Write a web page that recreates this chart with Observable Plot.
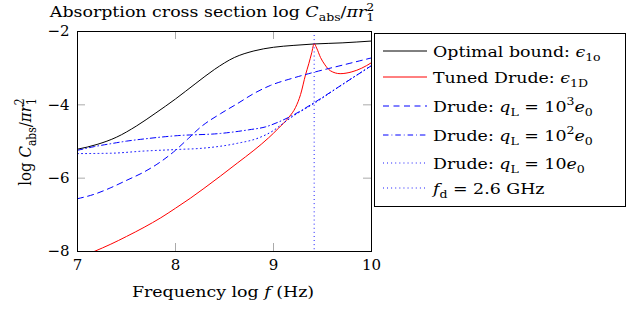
<!DOCTYPE html>
<html><head><meta charset="utf-8">
<script src="https://cdn.jsdelivr.net/npm/d3@7"></script>
<script src="https://cdn.jsdelivr.net/npm/@observablehq/plot@0.6"></script>
<style>body{margin:0;background:#fff;} svg{display:block} text{white-space:pre}</style>
</head><body><div id="chart"></div>
<script>
// Optimal bound eps_1o
const optX = [7.0, 7.2, 7.4, 7.6, 7.8, 8.0, 8.2, 8.4, 8.6, 8.8, 9.0, 9.2, 9.415, 9.7, 10.0];
const optY = [-5.21, -5.08, -4.88, -4.58, -4.22, -3.84, -3.43, -3.03, -2.71, -2.53, -2.43, -2.38, -2.34, -2.31, -2.26];
// Tuned Drude eps_1D
const tunX = [7.17, 7.34, 7.5, 7.68, 7.85, 8.0, 8.15, 8.29, 8.46, 8.63, 8.8, 8.95, 9.05, 9.16, 9.225, 9.276, 9.327, 9.36, 9.39, 9.415, 9.44, 9.48, 9.52, 9.58, 9.68, 9.80, 9.90, 10.0];
const tunY = [-8.0, -7.80, -7.59, -7.34, -7.08, -6.82, -6.55, -6.28, -5.94, -5.59, -5.24, -4.90, -4.64, -4.33, -4.07, -3.72, -3.18, -2.88, -2.58, -2.33, -2.45, -2.71, -2.89, -3.07, -3.15, -3.10, -3.00, -2.85];
// Drude qL = 1e3 e0
const d3X = [7.0, 7.17, 7.34, 7.5, 7.68, 7.85, 8.0, 8.13, 8.26, 8.46, 8.63, 8.80, 8.97, 9.2, 9.415, 9.7, 10.0];
const d3Y = [-6.56, -6.44, -6.26, -6.06, -5.83, -5.55, -5.24, -4.92, -4.60, -4.24, -3.97, -3.69, -3.47, -3.27, -3.11, -2.92, -2.72];
// Drude qL = 1e2 e0
const d2X = [7.0, 7.17, 7.34, 7.5, 7.68, 8.02, 8.46, 8.75, 8.92, 9.05, 9.2, 9.415, 9.7, 10.0];
const d2Y = [-5.24, -5.14, -5.06, -4.99, -4.93, -4.84, -4.78, -4.68, -4.60, -4.47, -4.28, -3.94, -3.45, -2.93];
// Drude qL = 10 e0
const d1X = [7.0, 7.34, 7.68, 8.0, 8.29, 8.63, 8.85, 9.0, 9.1, 9.2, 9.415, 9.7, 10.0];
const d1Y = [-5.33, -5.32, -5.26, -5.22, -5.18, -5.05, -4.90, -4.70, -4.50, -4.31, -3.96, -3.45, -2.93];
// f_d = 2.6 GHz
const fdLog = [Math.log10(2.6e9)];

const xTicks = [7, 8, 9, 10];
const yTicks = [-8, -6, -4, -2];

const series = [
  {name: "opt", xs: optX, ys: optY, stroke: "black", dash: null},
  {name: "tuned", xs: tunX, ys: tunY, stroke: "#ff0000", dash: null},
  {name: "d3", xs: d3X, ys: d3Y, stroke: "#0000ff", dash: "6,4.5"},
  {name: "d2", xs: d2X, ys: d2Y, stroke: "#0000ff", dash: "5.5,3,0.8,3"},
  {name: "d1", xs: d1X, ys: d1Y, stroke: "#0000ff", dash: "0.9,3.2"}
];
const rowsOf = s => s.xs.map((x, i) => ({x, y: s.ys[i]}));

const FONT = "'DejaVu Serif', serif";
const FS = 15;
const SX = 1.16; // horizontal stretch of the reference lettering
const fmt = d => (d < 0 ? "\u2212" + (-d) : String(d));

const plot = Plot.plot({
  width: 636, height: 311,
  marginLeft: 77, marginRight: 265, marginTop: 31, marginBottom: 60,
  x: {domain: [7, 10]},
  y: {domain: [-8, -2]},
  style: {fontFamily: FONT, fontSize: FS + "px", background: "white", color: "black"},
  marks: [
    Plot.axisX({ticks: xTicks, tickSize: 0, tickPadding: 8, label: null, tickFormat: fmt}),
    Plot.axisY({ticks: yTicks, tickSize: 0, tickPadding: 8, label: null, tickFormat: fmt}),
    Plot.tickX(xTicks, {insetTop: 212, stroke: "#aaa", strokeWidth: 1}),
    Plot.tickX(xTicks, {insetBottom: 212, stroke: "#aaa", strokeWidth: 1}),
    Plot.tickY(yTicks, {insetRight: 286, stroke: "#aaa", strokeWidth: 1}),
    Plot.tickY(yTicks, {insetLeft: 286, stroke: "#aaa", strokeWidth: 1}),
    ...series.map(s => Plot.line(rowsOf(s), {x: "x", y: "y", stroke: s.stroke, strokeWidth: 1, strokeDasharray: s.dash, curve: "monotone-x", clip: true})),
    Plot.ruleX(fdLog, {stroke: "#0000ff", strokeWidth: 1, strokeDasharray: "0.9,3.2"}),
    Plot.frame({stroke: "black", strokeWidth: 1})
  ]
});
document.getElementById("chart").appendChild(plot);

const svg = d3.select(plot);
function rich(parent, x, y, parts, anchor = "start", fs = FS, transform = `scale(${SX},1)`) {
  const g = parent.append("g").attr("transform", `translate(${x},${y}) ${transform}`);
  const t = g.append("text").attr("x", 0).attr("y", 0)
    .attr("font-size", fs).attr("text-anchor", anchor)
    .attr("font-family", FONT).attr("fill", "black");
  let shift = 0;
  for (const [str, kind = "", dx] of parts) {
    const ts = t.append("tspan").text(str);
    let target = 0, size = fs;
    if (kind.includes("sub")) { target = 0.28 * fs; size = 0.72 * fs; }
    if (kind.includes("sup")) { target = -0.42 * fs; size = 0.72 * fs; }
    if (target - shift !== 0) ts.attr("dy", target - shift);
    shift = target;
    ts.attr("font-size", size);
    if (kind.includes("i")) ts.attr("font-style", "italic");
    if (dx) ts.attr("dx", dx * fs);
  }
  return t;
}

const ratioParts = [["C", "i"], ["abs", "sub"], ["/"], ["\u03C0r", "i"], ["1", "sub"], ["2", "sup", -0.46]];
// Title
rich(svg, 212, 17, [["Absorption cross section log "], ...ratioParts], "middle");
// x label
rich(svg, 223, 297, [["Frequency log "], ["f", "i"], [" (Hz)"]], "middle");
// y label
rich(svg, 31, 142, [["log "], ...ratioParts], "middle", FS, `rotate(-90) scale(1,${SX})`);

// Legend
const lg = svg.append("g");
lg.append("rect").attr("x", 374.5).attr("y", 33.5).attr("width", 251).attr("height", 173)
  .attr("fill", "white").attr("stroke", "black").attr("stroke-width", 1);
const legendRows = [
  {y: 51, stroke: "black", dash: null, parts: [["Optimal bound: "], ["\u03F5", "i"], ["1o", "sub"]]},
  {y: 77, stroke: "#ff0000", dash: null, parts: [["Tuned Drude: "], ["\u03F5", "i"], ["1D", "sub"]]},
  {y: 106, stroke: "#0000ff", dash: "6,4.5", parts: [["Drude: "], ["q", "i"], ["L", "sub"], [" = 10"], ["3", "sup"], ["e", "i"], ["0", "sub"]]},
  {y: 135, stroke: "#0000ff", dash: "5.5,3,0.8,3", parts: [["Drude: "], ["q", "i"], ["L", "sub"], [" = 10"], ["2", "sup"], ["e", "i"], ["0", "sub"]]},
  {y: 163, stroke: "#0000ff", dash: "0.9,3.2", parts: [["Drude: "], ["q", "i"], ["L", "sub"], [" = 10"], ["e", "i"], ["0", "sub"]]},
  {y: 188, stroke: "#0000ff", dash: "0.9,3.2", parts: [["f", "i"], ["d", "sub"], [" = 2.6 GHz"]]}
];
for (const r of legendRows) {
  lg.append("line").attr("x1", 383).attr("x2", 427).attr("y1", r.y).attr("y2", r.y)
    .attr("stroke", r.stroke).attr("stroke-width", 1).attr("stroke-dasharray", r.dash);
  rich(lg, 433, r.y + 5.5, r.parts);
}
</script>
</body></html>
